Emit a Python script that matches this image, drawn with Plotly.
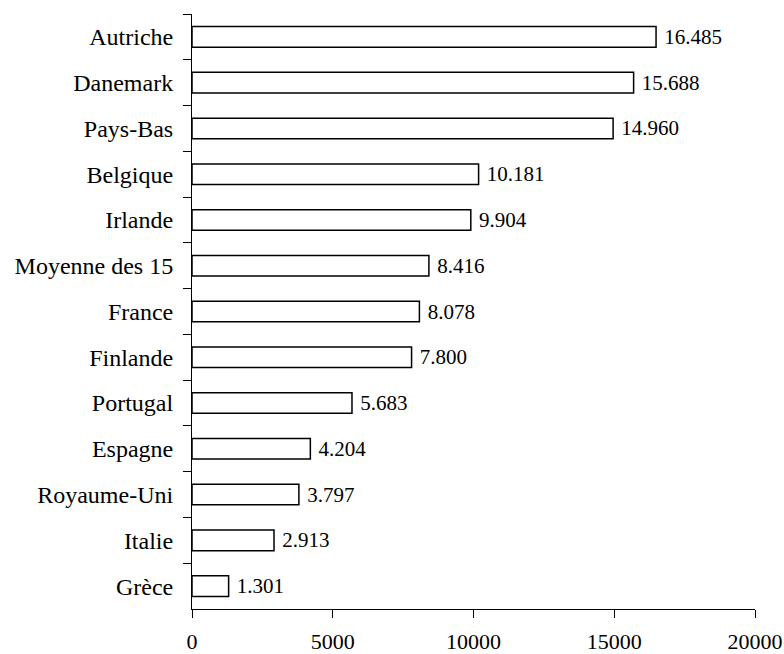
import plotly.graph_objects as go

countries = ["Autriche", "Danemark", "Pays-Bas", "Belgique", "Irlande", "Moyenne des 15",
             "France", "Finlande", "Portugal", "Espagne", "Royaume-Uni", "Italie", "Grèce"]
values = [16485, 15688, 14960, 10181, 9904, 8416, 8078, 7800, 5683, 4204, 3797, 2913, 1301]
x_ticks = [0, 5000, 10000, 15000, 20000]

FONT = "Liberation Serif"

fig = go.Figure(go.Bar(
    x=values, y=countries, orientation="h",
    marker=dict(color="white", line=dict(color="black", width=1.5)),
    texttemplate=" %{x:,}", textposition="outside", cliponaxis=False,
    constraintext="none",
    textfont=dict(family=FONT, size=21, color="black"),
))

fig.update_layout(
    width=784, height=654,
    margin=dict(l=192, r=29, t=14, b=45),
    paper_bgcolor="white", plot_bgcolor="white",
    separators=",.",
    bargap=0.55,
    showlegend=False,
    font=dict(family=FONT, size=22, color="black"),
)
fig.update_xaxes(
    range=[0, 20000], tickvals=x_ticks, ticktext=[str(v) for v in x_ticks],
    showgrid=False, zeroline=False, showline=True, linecolor="black", linewidth=1,
    ticks="outside", ticklen=8, tickcolor="black", ticklabelstandoff=5,
    automargin=False, tickfont=dict(size=22),
)
fig.update_yaxes(
    autorange="reversed", showgrid=False, showline=True, linecolor="black", linewidth=1,
    ticks="outside", ticklen=8, tickcolor="black", tickson="boundaries",
    ticklabelstandoff=13, automargin=False, tickfont=dict(size=24),
)

fig.write_html("out.html")
